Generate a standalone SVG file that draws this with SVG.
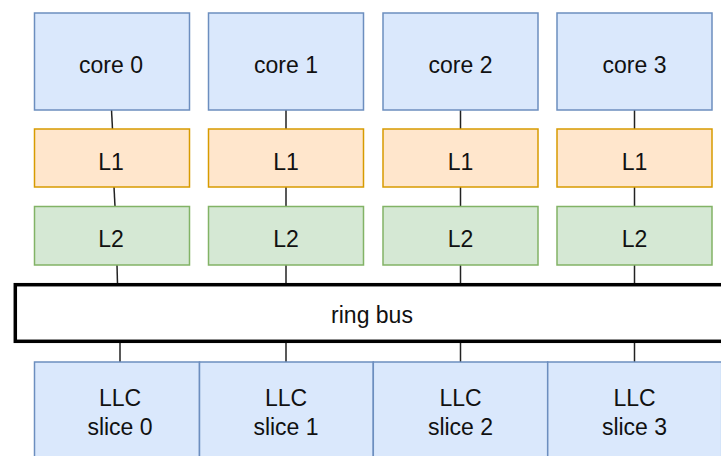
<svg xmlns="http://www.w3.org/2000/svg" width="721" height="456" viewBox="0 0 721 456">
  <style>
    .core { fill: #dae8fc; stroke: #6c8ebf; stroke-width: 1.5; }
    .l1 { fill: #ffe6cc; stroke: #d79b00; stroke-width: 1.5; }
    .l2 { fill: #d5e8d4; stroke: #82b366; stroke-width: 1.5; }
    .llc { fill: #dae8fc; stroke: #6c8ebf; stroke-width: 1.5; }
    .bus { fill: #ffffff; stroke: #000000; stroke-width: 3.5; }
    .lbl { font-family: "Liberation Sans", Arial, sans-serif; font-size: 23px; fill: #111111; text-anchor: middle; }
    .wire { stroke: #222222; stroke-width: 1.5; fill: none; }
  </style>
  <rect width="721" height="456" fill="#ffffff"/>

  <!-- connectors -->
  <g id="connectors">
    <line class="wire" x1="111.5" y1="110" x2="112.5" y2="129"/>
    <line class="wire" x1="114" y1="187" x2="115" y2="206.5"/>
    <line class="wire" x1="117" y1="265" x2="117.5" y2="284"/>
    <line class="wire" x1="120" y1="342" x2="120" y2="362"/>

    <line class="wire" x1="286" y1="110" x2="286" y2="129"/>
    <line class="wire" x1="286" y1="187" x2="286" y2="206.5"/>
    <line class="wire" x1="286" y1="265" x2="286" y2="284"/>
    <line class="wire" x1="286" y1="342" x2="286" y2="362"/>

    <line class="wire" x1="460.5" y1="110" x2="460.5" y2="129"/>
    <line class="wire" x1="460.5" y1="187" x2="460.5" y2="206.5"/>
    <line class="wire" x1="460.5" y1="265" x2="460.5" y2="284"/>
    <line class="wire" x1="460.5" y1="342" x2="460.5" y2="362"/>

    <line class="wire" x1="634.5" y1="110" x2="634.5" y2="129"/>
    <line class="wire" x1="634.5" y1="187" x2="634.5" y2="206.5"/>
    <line class="wire" x1="634.5" y1="265" x2="634.5" y2="284"/>
    <line class="wire" x1="634.5" y1="342" x2="634.5" y2="362"/>
  </g>

  <!-- cores -->
  <g id="core0"><rect class="core" x="34.5" y="13" width="155" height="97"/><text class="lbl" x="111" y="73">core 0</text></g>
  <g id="core1"><rect class="core" x="208.5" y="13" width="155" height="97"/><text class="lbl" x="286" y="73">core 1</text></g>
  <g id="core2"><rect class="core" x="383" y="13" width="155" height="97"/><text class="lbl" x="460.5" y="73">core 2</text></g>
  <g id="core3"><rect class="core" x="557" y="13" width="155" height="97"/><text class="lbl" x="634.5" y="73">core 3</text></g>

  <!-- L1 caches -->
  <g id="l1-0"><rect class="l1" x="34.5" y="129" width="155" height="58"/><text class="lbl" x="111" y="169.5">L1</text></g>
  <g id="l1-1"><rect class="l1" x="208.5" y="129" width="155" height="58"/><text class="lbl" x="286" y="169.5">L1</text></g>
  <g id="l1-2"><rect class="l1" x="383" y="129" width="155" height="58"/><text class="lbl" x="460.5" y="169.5">L1</text></g>
  <g id="l1-3"><rect class="l1" x="557" y="129" width="155" height="58"/><text class="lbl" x="634.5" y="169.5">L1</text></g>

  <!-- L2 caches -->
  <g id="l2-0"><rect class="l2" x="34.5" y="206.5" width="155" height="58.5"/><text class="lbl" x="111" y="246.5">L2</text></g>
  <g id="l2-1"><rect class="l2" x="208.5" y="206.5" width="155" height="58.5"/><text class="lbl" x="286" y="246.5">L2</text></g>
  <g id="l2-2"><rect class="l2" x="383" y="206.5" width="155" height="58.5"/><text class="lbl" x="460.5" y="246.5">L2</text></g>
  <g id="l2-3"><rect class="l2" x="557" y="206.5" width="155" height="58.5"/><text class="lbl" x="634.5" y="246.5">L2</text></g>

  <!-- ring bus -->
  <g id="ringbus"><rect class="bus" x="15.3" y="284.7" width="714" height="56.6"/><text class="lbl" x="372" y="323">ring bus</text></g>

  <!-- LLC slices -->
  <g id="llc0"><rect class="llc" x="34.5" y="362" width="165" height="120"/><text class="lbl" x="120" y="406">LLC</text><text class="lbl" x="120" y="435">slice 0</text></g>
  <g id="llc1"><rect class="llc" x="199.5" y="362" width="173.8" height="120"/><text class="lbl" x="286" y="406">LLC</text><text class="lbl" x="286" y="435">slice 1</text></g>
  <g id="llc2"><rect class="llc" x="373.3" y="362" width="174.4" height="120"/><text class="lbl" x="460.5" y="406">LLC</text><text class="lbl" x="460.5" y="435">slice 2</text></g>
  <g id="llc3"><rect class="llc" x="547.7" y="362" width="174" height="120"/><text class="lbl" x="634.5" y="406">LLC</text><text class="lbl" x="634.5" y="435">slice 3</text></g>
</svg>
